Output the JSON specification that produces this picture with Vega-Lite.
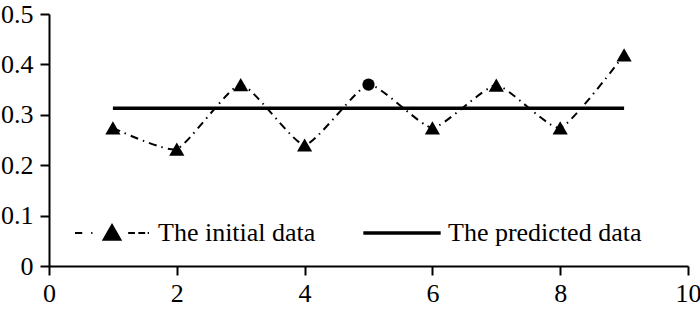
{
  "$schema": "https://vega.github.io/schema/vega-lite/v6.json",
  "width": 639,
  "height": 252,
  "autosize": "none",
  "padding": {"left": 49, "top": 14, "right": 12, "bottom": 45},
  "background": "white",
  "config": {
    "view": {"stroke": null},
    "font": "Liberation Serif"
  },
  "data": {
    "values": [
      {"x": 1, "y": 0.274, "series": "The initial data"},
      {"x": 2, "y": 0.232, "series": "The initial data"},
      {"x": 3, "y": 0.36, "series": "The initial data"},
      {"x": 4, "y": 0.24, "series": "The initial data"},
      {"x": 5, "y": 0.36, "series": "The initial data"},
      {"x": 6, "y": 0.274, "series": "The initial data"},
      {"x": 7, "y": 0.359, "series": "The initial data"},
      {"x": 8, "y": 0.274, "series": "The initial data"},
      {"x": 9, "y": 0.419, "series": "The initial data"},
      {"x": 1, "y": 0.313, "series": "The predicted data"},
      {"x": 9, "y": 0.313, "series": "The predicted data"}
    ]
  },
  "encoding": {
    "x": {
      "field": "x", "type": "quantitative",
      "scale": {"domain": [0, 10], "nice": false},
      "axis": {"values": [0, 2, 4, 6, 8, 10], "labelPadding": 5, "labelFlush": false,
               "grid": false, "title": null, "domainColor": "black", "domainWidth": 2,
               "tickColor": "black", "tickWidth": 2, "tickSize": 9,
               "labelColor": "black", "labelFont": "Liberation Serif", "labelFontSize": 26}
    },
    "y": {
      "field": "y", "type": "quantitative",
      "scale": {"domain": [0, 0.5], "nice": false},
      "axis": {"values": [0, 0.1, 0.2, 0.3, 0.4, 0.5], "labelPadding": 7, "labelFlush": false,
               "labelExpr": "datum.value == 0 ? '0' : format(datum.value, '.1f')",
               "grid": false, "title": null, "domainColor": "black", "domainWidth": 2,
               "tickColor": "black", "tickWidth": 2, "tickSize": 9,
               "labelColor": "black", "labelFont": "Liberation Serif", "labelFontSize": 26}
    }
  },
  "layer": [
    {
      "mark": {"type": "line", "interpolate": "cardinal", "tension": 0.5},
      "encoding": {
        "color": {
          "field": "series", "type": "nominal",
          "scale": {"domain": ["The initial data", "The predicted data"], "range": ["black", "black"]},
          "legend": {
            "title": null,
            "orient": "none",
            "legendX": 50,
            "legendY": 206,
            "direction": "horizontal",
            "padding": 0,
            "symbolSize": 289,
            "labelFont": "Liberation Serif",
            "labelFontSize": 26,
            "labelColor": "black",
            "labelLimit": 400,
            "labelOffset": 33,
            "columnPadding": 40,
            "symbolStrokeWidth": 2,
            "encode": {
              "symbols": {
                "update": {
                  "shape": {"signal": "datum.value === 'The initial data' ? 'M-4.35,0H-3.5M-2.45,0H-2.3M0,-0.95L1,0.8H-1ZM1.9,0H2.7M3.1,0H3.9M4.2,0H4.35' : 'M-4.55,0H4.55'"},
                  "fill": {"value": "black"},
                  "stroke": {"value": "black"},
                  "strokeDash": {"value": [1, 0]},
                  "strokeWidth": {"signal": "datum.value === 'The initial data' ? 2 : 3.5"},
                  "opacity": {"value": 1}
                }
              }
            }
          }
        },
        "strokeDash": {
          "condition": {"test": "datum.series === 'The predicted data'", "value": [1, 0]},
          "value": [8, 5, 1.5, 5]
        },
        "strokeWidth": {
          "condition": {"test": "datum.series === 'The predicted data'", "value": 3.5},
          "value": 2
        }
      }
    },
    {
      "transform": [{"filter": "datum.series === 'The initial data' && datum.x != 5"}],
      "mark": {"type": "point", "shape": "triangle-up", "filled": true, "size": 230, "color": "black", "opacity": 1}
    },
    {
      "transform": [{"filter": "datum.series === 'The initial data' && datum.x == 5"}],
      "mark": {"type": "point", "shape": "circle", "filled": true, "size": 150, "color": "black", "opacity": 1}
    }
  ]
}
